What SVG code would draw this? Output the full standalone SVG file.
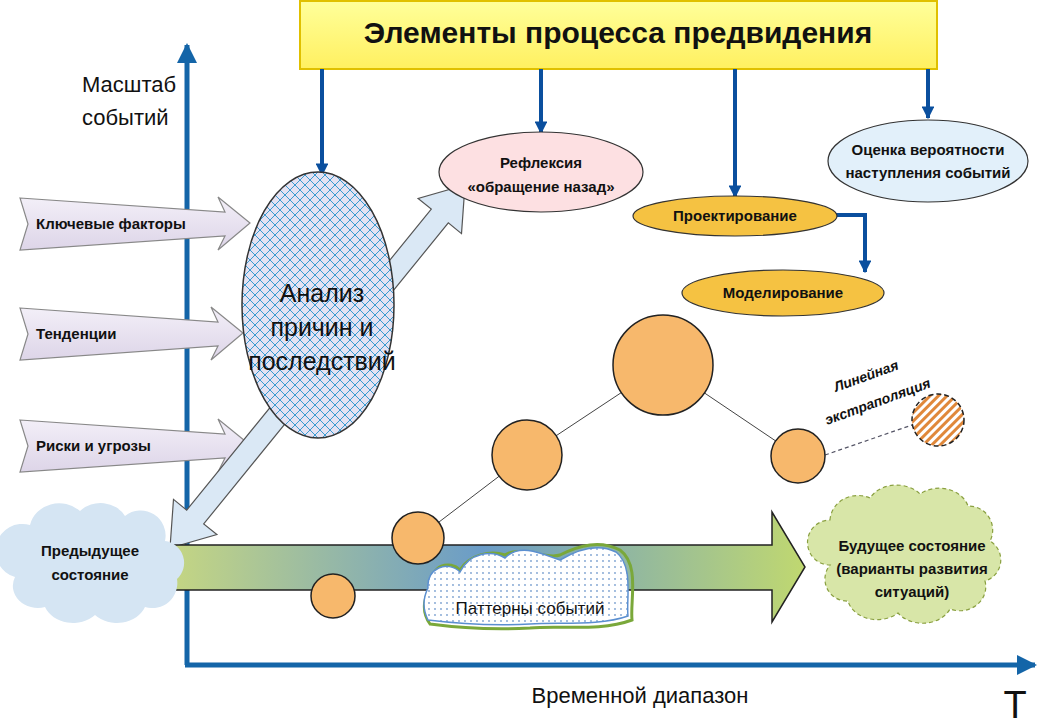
<svg xmlns="http://www.w3.org/2000/svg" width="1039" height="724" viewBox="0 0 1039 724">
<defs>
<style>
text{font-family:"Liberation Sans","Noto Sans",sans-serif;fill:#111}
.b{font-weight:bold;font-size:15px}
.blue{stroke:#0a4f9e;stroke-width:4;fill:none}
.orb{fill:#f7b86c;stroke:#222;stroke-width:1.5}
.lav{fill:url(#lavg);stroke:#888;stroke-width:1.2}
</style>
<linearGradient id="lavg" x1="0" y1="0" x2="0" y2="1"><stop offset="0" stop-color="#f3eff8"/><stop offset="1" stop-color="#ddd5e8"/></linearGradient>
<linearGradient id="titleg" x1="0" y1="0" x2="0" y2="1"><stop offset="0" stop-color="#ffff9a"/><stop offset="1" stop-color="#fff060"/></linearGradient>
<linearGradient id="bigg" x1="160" y1="0" x2="805" y2="0" gradientUnits="userSpaceOnUse"><stop offset="0" stop-color="#c8d880"/><stop offset="0.5" stop-color="#6a9cc8"/><stop offset="1" stop-color="#c0d870"/></linearGradient>
<pattern id="cross" width="10" height="10" patternUnits="userSpaceOnUse"><rect width="10" height="10" fill="#e4e2f2"/><path d="M0,0L10,10M10,0L0,10" stroke="#3a9ad0" stroke-width="1"/></pattern>
<pattern id="dots" width="6" height="6" patternUnits="userSpaceOnUse"><rect width="6" height="6" fill="#fff"/><circle cx="3" cy="3" r="0.9" fill="#7aa0d0"/></pattern>
<pattern id="hatch" width="6" height="6" patternUnits="userSpaceOnUse" patternTransform="rotate(45)"><rect width="6" height="6" fill="#fff"/><rect width="3" height="6" fill="#e0883a"/></pattern>
<marker id="ah" viewBox="0 0 10 10" refX="9" refY="5" markerWidth="3.2" markerHeight="3.2" orient="auto"><path d="M0,0L10,5L0,10z" fill="#0a4f9e"/></marker>
<marker id="ax" viewBox="0 0 10 10" refX="9" refY="5" markerWidth="4" markerHeight="4" orient="auto"><path d="M0,0L10,5L0,10z" fill="#1465a8"/></marker>
</defs>

<g id="axes">
<line x1="187" y1="665" x2="187" y2="45" stroke="#1465a8" stroke-width="5" marker-end="url(#ax)"/>
<line x1="185" y1="665" x2="1035" y2="665" stroke="#1465a8" stroke-width="5" marker-end="url(#ax)"/>
<text x="82" y="92" font-size="22">Масштаб</text>
<text x="82" y="125" font-size="22">событий</text>
<text x="640" y="703" font-size="22" text-anchor="middle">Временной диапазон</text>
<text x="1015" y="718" font-size="38" text-anchor="middle">T</text>
</g>

<g id="title">
<rect x="300" y="1" width="637" height="68" fill="url(#titleg)" stroke="#e0c000" stroke-width="2"/>
<text x="618" y="43" font-size="30" font-weight="bold" text-anchor="middle">Элементы процесса предвидения</text>
</g>

<g id="connectors">
<line class="blue" x1="322" y1="69" x2="322" y2="175" marker-end="url(#ah)"/>
<line class="blue" x1="541" y1="69" x2="541" y2="133" marker-end="url(#ah)"/>
<line class="blue" x1="735" y1="69" x2="735" y2="197" marker-end="url(#ah)"/>
<line class="blue" x1="928" y1="69" x2="928" y2="118" marker-end="url(#ah)"/>
<path class="blue" d="M835,215H865V272" marker-end="url(#ah)"/>
<polyline points="333,596 418,538 527,455 663,365 798,456" fill="none" stroke="#444" stroke-width="1"/>
<line x1="825" y1="455" x2="912" y2="425" stroke="#556" stroke-width="1.2" stroke-dasharray="4,3"/>
</g>

<g id="inputs">
<g id="key"><polygon class="lav" points="20,198 225,212 218,197 250,223 218,250 225,236 20,250 28,224"/><text class="b" x="36" y="229">Ключевые факторы</text></g>
<g id="trend"><polygon class="lav" points="20,308 218,322 211,307 243,333 211,360 218,346 20,360 28,334"/><text class="b" x="36" y="339">Тенденции</text></g>
<g id="risk"><polygon class="lav" points="20,420 225,434 218,419 250,445 218,472 225,458 20,472 28,446"/><text class="b" x="36" y="451">Риски и угрозы</text></g>
</g>

<g id="backarrow">
<polygon points="170,548 216.9,534.6 203.7,523.9 448.3,222.9 461.5,233.6 465,185 418.1,198.4 431.3,209.1 186.7,510.1 173.5,499.4" fill="#dae8f5" stroke="#555" stroke-width="1.2"/>
</g>

<g id="analysis">
<ellipse cx="318" cy="305" rx="76" ry="133" fill="url(#cross)" stroke="#333" stroke-width="1.5"/>
<text x="322" y="302" font-size="25" text-anchor="middle">Анализ</text>
<text x="322" y="336" font-size="25" text-anchor="middle">причин и</text>
<text x="322" y="370" font-size="25" text-anchor="middle">последствий</text>
</g>

<g id="reflex">
<ellipse cx="541" cy="172" rx="102" ry="40" fill="#fde0e2" stroke="#333" stroke-width="1.2"/>
<text class="b" x="541" y="168" text-anchor="middle">Рефлексия</text>
<text class="b" x="541" y="192" text-anchor="middle">«обращение назад»</text>
</g>

<g id="proj">
<ellipse cx="735" cy="216" rx="102" ry="20" fill="#f5c242" stroke="#333" stroke-width="1.2"/>
<text class="b" x="735" y="221" text-anchor="middle">Проектирование</text>
</g>
<g id="model">
<ellipse cx="783" cy="293" rx="101" ry="23" fill="#f5c242" stroke="#333" stroke-width="1.2"/>
<text class="b" x="783" y="298" text-anchor="middle">Моделирование</text>
</g>
<g id="prob">
<ellipse cx="928" cy="161" rx="100" ry="41" fill="#e2f0fa" stroke="#333" stroke-width="1.2"/>
<text class="b" x="928" y="155" text-anchor="middle">Оценка вероятности</text>
<text class="b" x="928" y="178" text-anchor="middle">наступления событий</text>
</g>

<g id="timeline">
<polygon points="160,545 772,545 772,512 805,567 772,622 772,590 160,590" fill="url(#bigg)" stroke="#222" stroke-width="1.5"/>
</g>

<g id="prev">
<path d="M30,525 a30,28 0 0 1 50,-14 a28,25 0 0 1 45,5 a25,25 0 0 1 40,25 a22,22 0 0 1 12,38 a25,25 0 0 1 -32,28 a30,25 0 0 1 -50,8 a30,25 0 0 1 -50,-8 a25,22 0 0 1 -30,-30 a22,22 0 0 1 15,-52 z" fill="#d5e5f3"/>
<text class="b" x="90" y="556" text-anchor="middle">Предыдущее</text>
<text class="b" x="90" y="580" text-anchor="middle">состояние</text>
</g>

<g id="patterns">
<path d="M432,585 C430,565 450,560 460,570 C470,555 490,550 505,555 C520,545 545,560 560,555 C580,545 600,540 620,550 C640,565 630,600 632,620 C600,632 560,625 530,628 C490,630 460,628 430,624 C420,610 425,595 432,585 z" fill="none" stroke="#7aa83a" stroke-width="3"/>
<path d="M428,588 C426,568 448,560 460,572 C470,552 492,550 505,558 C520,542 545,555 560,560 C580,548 600,544 616,552 C634,566 626,600 628,616 C600,626 560,622 530,624 C490,626 460,624 428,620 C422,608 424,596 428,588 z" fill="url(#dots)" stroke="#5b8fd0" stroke-width="1.5"/>
<text x="530" y="614" font-size="17" text-anchor="middle">Паттерны событий</text>
</g>

<g id="future">
<path d="M830,520 a28,26 0 0 1 40,-22 a30,24 0 0 1 50,-4 a30,25 0 0 1 48,12 a24,24 0 0 1 22,35 a22,22 0 0 1 -5,40 a26,24 0 0 1 -35,28 a30,24 0 0 1 -52,4 a30,24 0 0 1 -50,-12 a22,22 0 0 1 -18,-36 a22,22 0 0 1 0,-45 z" fill="#d8e6a8" stroke="#8aa040" stroke-width="1.2" stroke-dasharray="4,3"/>
<text class="b" x="912" y="551" text-anchor="middle">Будущее состояние</text>
<text class="b" x="912" y="574" text-anchor="middle">(варианты развития</text>
<text class="b" x="912" y="597" text-anchor="middle">ситуаций)</text>
</g>

<g id="events">
<circle class="orb" cx="333" cy="596" r="22"/>
<circle class="orb" cx="418" cy="538" r="26"/>
<circle class="orb" cx="527" cy="455" r="35"/>
<circle class="orb" cx="663" cy="365" r="50"/>
<circle class="orb" cx="798" cy="456" r="27"/>
<circle cx="938" cy="420" r="26" fill="url(#hatch)" stroke="#222" stroke-width="1.5" stroke-dasharray="5,3"/>
<text font-size="14" font-weight="bold" font-style="italic" transform="translate(836,392) rotate(-20)">Линейная</text>
<text font-size="14" font-weight="bold" font-style="italic" transform="translate(827,425) rotate(-20)">экстраполяция</text>
</g>
</svg>
